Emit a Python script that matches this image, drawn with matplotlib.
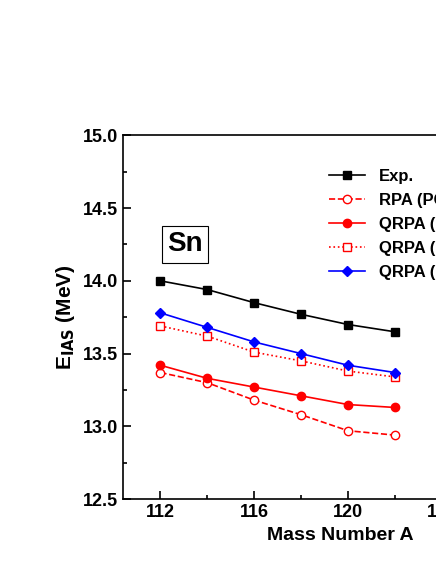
import matplotlib
matplotlib.use("Agg")
from matplotlib import pyplot as plt
from matplotlib.ticker import MultipleLocator

plt.rcParams["font.family"] = ["Liberation Sans", "DejaVu Sans"]
plt.rcParams["font.weight"] = "bold"

mass = [112, 114, 116, 118, 120, 122]
exp = [14.00, 13.94, 13.85, 13.77, 13.70, 13.65]
rpa = [13.37, 13.30, 13.18, 13.08, 12.97, 12.94]
qrpa1 = [13.42, 13.33, 13.27, 13.21, 13.15, 13.13]
qrpa2 = [13.69, 13.62, 13.51, 13.45, 13.38, 13.34]
qrpa3 = [13.78, 13.68, 13.58, 13.50, 13.42, 13.37]

fig = plt.figure(figsize=(4.36, 5.64), dpi=100)
# the axes run past the right edge, as in the cropped reference
ax = fig.add_axes([0.282, 0.115, 0.995, 0.645])

ax.plot(mass, exp, "k-s", ms=6, lw=1.2, label="Exp.")
ax.plot(mass, rpa, "r--o", ms=6, lw=1.2, mfc="white", label="RPA (PC-PK1)")
ax.plot(mass, qrpa1, "r-o", ms=6, lw=1.2, label="QRPA (PC-PK1)")
ax.plot(mass, qrpa2, "r:s", ms=6, lw=1.2, mfc="white", label="QRPA (DD-ME2)")
ax.plot(mass, qrpa3, "b-D", ms=5, lw=1.2, label="QRPA (PKO1)")

ax.set_xlim(110.4, 128.9)
ax.set_ylim(12.5, 15.0)
ax.set_xticks([112, 116, 120, 124, 128])
ax.xaxis.set_minor_locator(MultipleLocator(2))
ax.yaxis.set_major_locator(MultipleLocator(0.5))
ax.yaxis.set_minor_locator(MultipleLocator(0.25))
ax.tick_params(which="both", direction="in", labelsize=13, width=1.2)
ax.tick_params(which="major", length=6)
ax.tick_params(which="minor", length=3)
for s in ax.spines.values():
    s.set_linewidth(1.2)

ax.set_xlabel("Mass Number A", fontsize=14, fontweight="bold")
ax.set_ylabel(r"E$_{\mathbf{IAS}}$ (MeV)", fontsize=15, fontweight="bold")

ax.text(113.05, 14.25, "Sn", fontsize=20, fontweight="bold", ha="center", va="center",
        bbox=dict(facecolor="white", edgecolor="black", lw=0.8, pad=4))

ax.legend(loc="upper left", bbox_to_anchor=(0.44, 0.95), frameon=False,
          fontsize=12, handlelength=2.2, labelspacing=0.55)

fig.savefig("out.png", dpi=100)
